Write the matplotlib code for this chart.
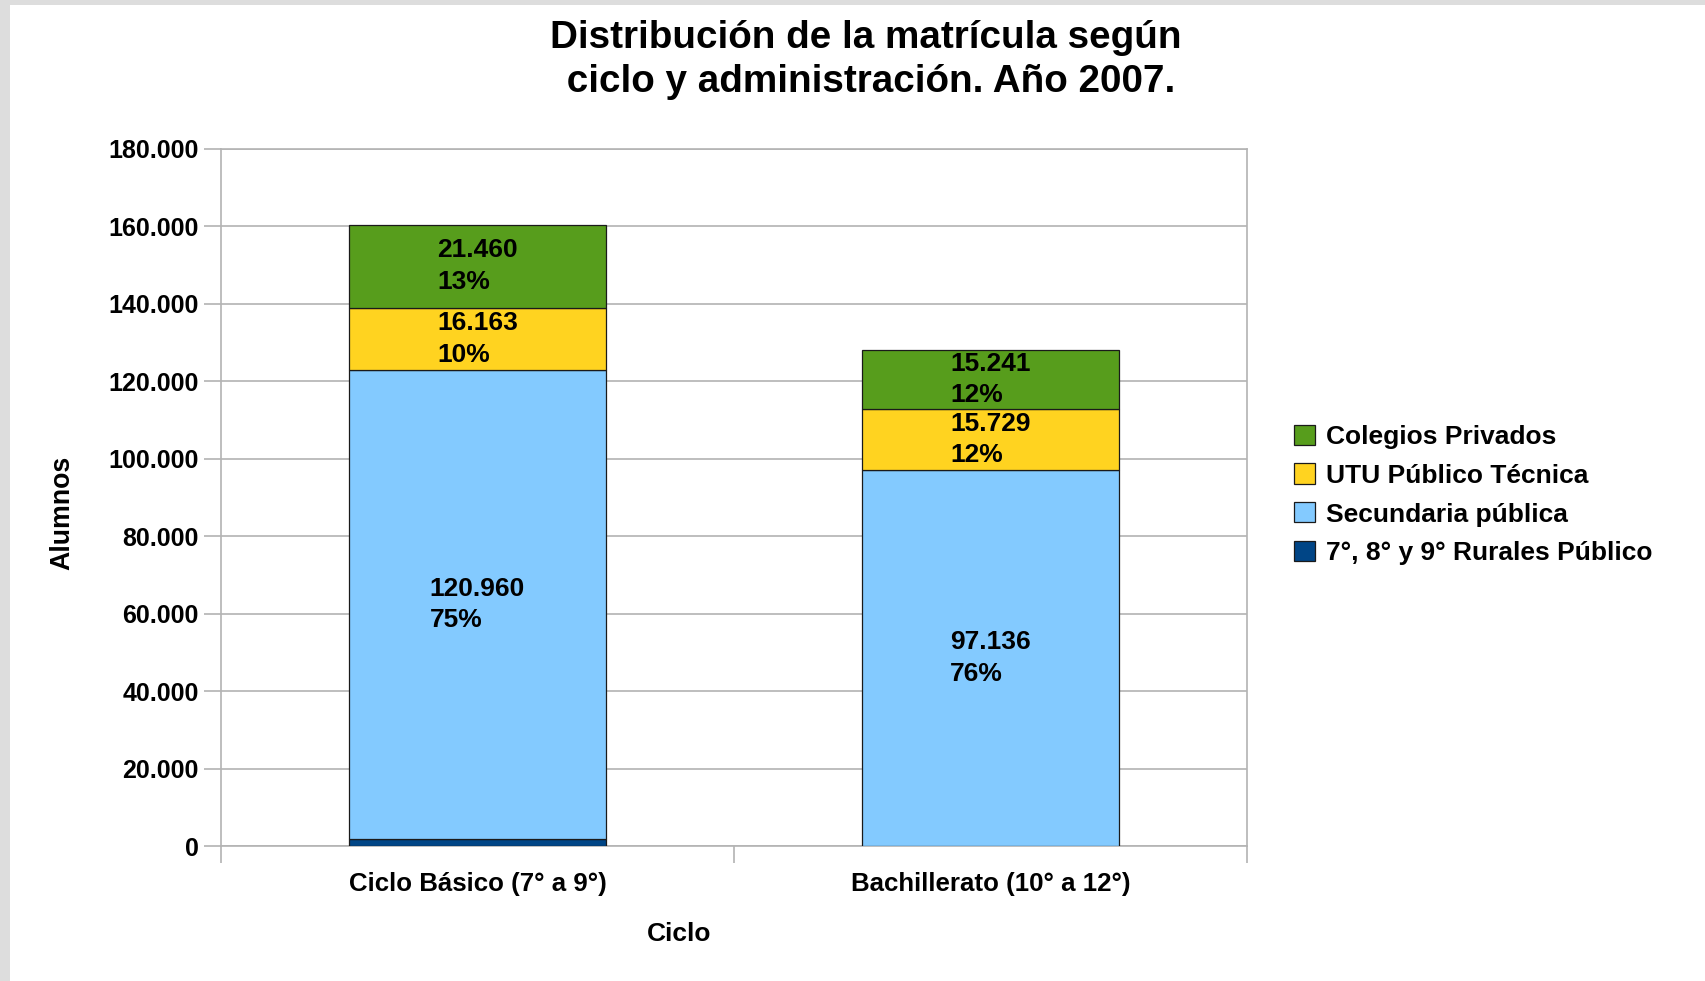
import numpy as np
import matplotlib
matplotlib.use("Agg")
import matplotlib.pyplot as plt
from matplotlib.patches import Rectangle

plt.rcParams['font.family'] = ['Liberation Sans', 'DejaVu Sans']
plt.rcParams['font.weight'] = 'bold'

# datos
ciclos = ["Ciclo Básico (7° a 9°)", "Bachillerato (10° a 12°)"]
rurales = [1900, 0]
secundaria = [120960, 97136]
utu = [16163, 15729]
privados = [21460, 15241]
series_nombres = ["7°, 8° y 9° Rurales Público", "Secundaria pública",
                  "UTU Público Técnica", "Colegios Privados"]
colores = ["#004586", "#83caff", "#ffd320", "#579d1c"]
y_ticks = [0, 20000, 40000, 60000, 80000, 100000, 120000, 140000, 160000, 180000]

fig = plt.figure(figsize=(17.06, 9.81), dpi=100, facecolor="#dddddd")
fig.add_artist(Rectangle((10 / 1706, 0), 1, 1 - 5 / 981, transform=fig.transFigure,
                         facecolor="white", edgecolor="none", zorder=-5))
ax = fig.add_axes([221 / 1706, 1 - 846 / 981, (1247 - 221) / 1706, (846 - 149) / 981])

x = np.arange(len(ciclos))
series = [rurales, secundaria, utu, privados]
totales = np.sum(series, axis=0)
abajo = np.zeros(len(ciclos))
for vals, nombre, col in zip(series, series_nombres, colores):
    vals = np.array(vals, dtype=float)
    ax.bar(x, vals, 0.5, bottom=abajo, color=col, edgecolor="#1a1a1a",
           linewidth=0.9, label=nombre, zorder=3)
    if nombre != series_nombres[0]:
        for i in range(len(ciclos)):
            if vals[i] > 0:
                txt = "{:,}".format(int(vals[i])).replace(",", ".")
                pct = "{:.0f}%".format(vals[i] / totales[i] * 100)
                ax.text(x[i], abajo[i] + vals[i] / 2, txt + "\n" + pct,
                        ha="center", va="center", multialignment="left",
                        fontsize=19, fontweight="bold", linespacing=1.4, zorder=4)
    abajo += vals

ax.set_xlim(-0.5, 1.5)
ax.set_ylim(0, 180000)
ax.set_yticks(y_ticks)
ax.set_yticklabels(["{:,}".format(v).replace(",", ".") for v in y_ticks])
ax.set_xticks(x)
ax.set_xticklabels(ciclos)
ax.set_xticks([-0.5, 0.5, 1.5], minor=True)
ax.tick_params(axis="x", which="major", length=0, pad=19, labelsize=18.6)
ax.tick_params(axis="x", which="minor", length=12, color="#b3b3b3", width=1.2)
ax.tick_params(axis="y", length=12, color="#b3b3b3", width=1.2, pad=4, labelsize=18)
ax.grid(axis="y", color="#b3b3b3", linewidth=1.2, zorder=0)
for s in ax.spines.values():
    s.set_color("#b3b3b3")
    s.set_linewidth(1.2)

fig.text(866 / 1706, 1 - 60 / 981, "Distribución de la matrícula según\n ciclo y administración. Año 2007.",
         ha="center", va="center", fontsize=27.8, fontweight="bold", linespacing=1.25)
fig.text(62 / 1706, 1 - 513 / 981, "Alumnos", rotation=90, ha="center", va="center",
         fontsize=19.3, fontweight="bold")
fig.text(679 / 1706, 1 - 934 / 981, "Ciclo", ha="center", va="center",
         fontsize=19, fontweight="bold")

h, l = ax.get_legend_handles_labels()
leg = fig.legend(h[::-1], l[::-1], loc="center left", bbox_to_anchor=(1294 / 1706, 1 - 495 / 981),
                 bbox_transform=fig.transFigure, frameon=False, fontsize=19,
                 borderpad=0, borderaxespad=0, handlelength=0.8, handleheight=0.8,
                 handletextpad=0.4, labelspacing=0.55)

fig.savefig("out.png", dpi=100, facecolor=fig.get_facecolor())
